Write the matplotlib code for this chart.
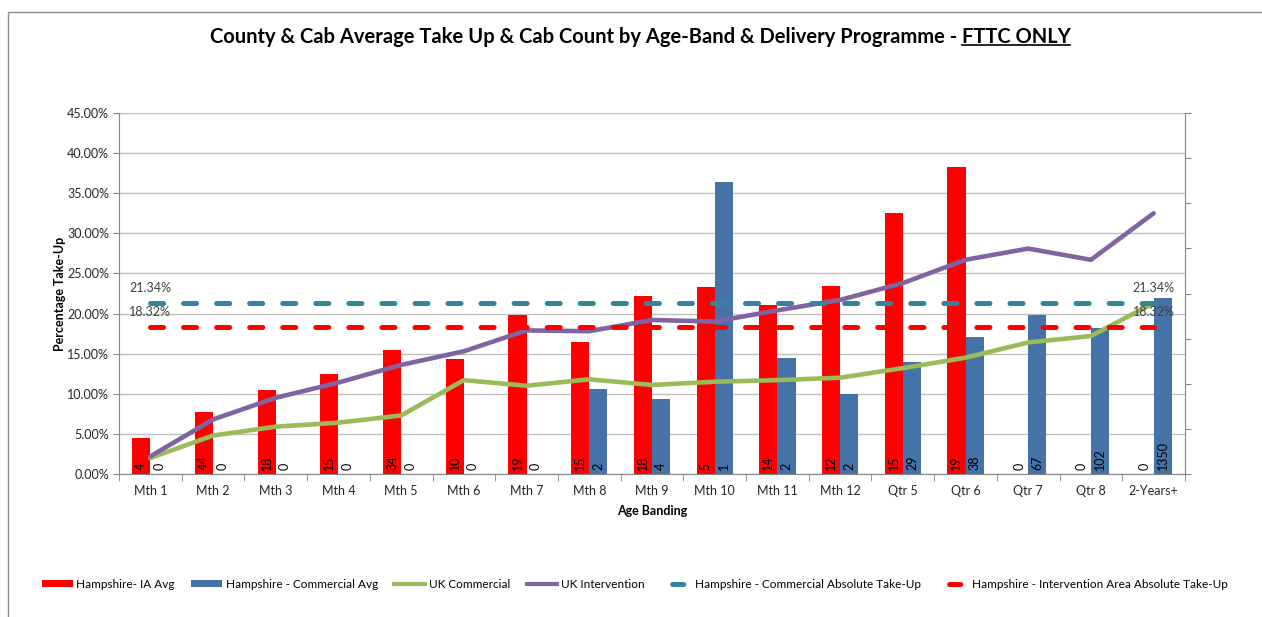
import numpy as np
import matplotlib.pyplot as plt
from matplotlib.lines import Line2D
from matplotlib.patches import Patch, Rectangle
from matplotlib.ticker import FuncFormatter

plt.rcParams['font.family'] = ['Lato', 'DejaVu Sans']
plt.rcParams['lines.scale_dashes'] = False

# 数据
categories = ['Mth 1', 'Mth 2', 'Mth 3', 'Mth 4', 'Mth 5', 'Mth 6', 'Mth 7', 'Mth 8',
              'Mth 9', 'Mth 10', 'Mth 11', 'Mth 12', 'Qtr 5', 'Qtr 6', 'Qtr 7', 'Qtr 8',
              '2-Years+']
ia_avg = [4.5, 7.7, 10.5, 12.5, 15.5, 14.3, 19.8, 16.5, 22.2, 23.3, 21.1, 23.4,
          32.5, 38.3, 0, 0, 0]
comm_avg = [0, 0, 0, 0, 0, 0, 0, 10.6, 9.4, 36.4, 14.4, 10.0, 14.0, 17.1, 19.8,
            18.2, 22.0]
ia_counts = [4, 44, 18, 15, 34, 10, 19, 15, 18, 5, 14, 12, 15, 19, 0, 0, 0]
comm_counts = [0, 0, 0, 0, 0, 0, 0, 2, 4, 1, 2, 2, 29, 38, 67, 102, 1350]
uk_commercial = [2.0, 4.8, 5.9, 6.4, 7.3, 11.7, 11.0, 11.8, 11.1, 11.5, 11.7, 12.0,
                 13.2, 14.5, 16.4, 17.2, 21.3]
uk_intervention = [2.2, 6.8, 9.5, 11.4, 13.6, 15.3, 17.9, 17.8, 19.2, 19.0, 20.4,
                   21.7, 23.8, 26.7, 28.1, 26.7, 32.5]
comm_absolute = 21.34
ia_absolute = 18.32

RED = '#FF0000'
BLUE = '#4572A7'
GREEN = '#9BBB59'
PURPLE = '#8064A2'
TEAL = '#31859C'
GRID = '#BFBFBF'
AXIS = '#868686'
TXT = '#262626'

W, H = 1262, 617
fig = plt.figure(figsize=(W / 100, H / 100), dpi=100)
ax = fig.add_axes([119 / W, 1 - 474 / H, (1185 - 119) / W, (474 - 113) / H])

x = np.arange(len(categories))
bw = 0.29

ax.bar(x - bw / 2, ia_avg, bw, color=RED, zorder=2)
ax.bar(x + bw / 2, comm_avg, bw, color=BLUE, zorder=2)

# 柱内计数标签
for xi, c in zip(x, ia_counts):
    ax.annotate(str(c), (xi - bw / 2, 0), xytext=(0, 3), textcoords='offset points',
                rotation=90, ha='center', va='bottom', fontsize=9, color='black', zorder=5)
for xi, c in zip(x, comm_counts):
    ax.annotate(str(c), (xi + bw / 2, 0), xytext=(0, 3), textcoords='offset points',
                rotation=90, ha='center', va='bottom', fontsize=9, color='black', zorder=5)

ax.plot(x, uk_commercial, color=GREEN, lw=3.3, solid_capstyle='round',
        solid_joinstyle='round', zorder=3)
ax.plot(x, uk_intervention, color=PURPLE, lw=3.3, solid_capstyle='round',
        solid_joinstyle='round', zorder=3)

dash = (0, (9.4, 14.4))
ax.plot(x, [comm_absolute] * len(x), color=TEAL, lw=3.6, linestyle=dash,
        dash_capstyle='round', zorder=4)
ax.plot(x, [ia_absolute] * len(x), color=RED, lw=3.6, linestyle=dash,
        dash_capstyle='round', zorder=4)

for xi in (x[0], x[-1]):
    ax.annotate(f'{comm_absolute:.2f}%', (xi, comm_absolute), xytext=(0, 11),
                textcoords='offset points', ha='center', va='center', fontsize=9,
                color='#404040', zorder=6)
    ax.annotate(f'{ia_absolute:.2f}%', (xi, ia_absolute), xytext=(0, 11),
                textcoords='offset points', ha='center', va='center', fontsize=9,
                color='#404040', zorder=6)

ax.set_xlim(-0.5, len(categories) - 0.5)
ax.set_ylim(0, 45)
ax.set_yticks(np.arange(0, 46, 5))
ax.yaxis.set_major_formatter(FuncFormatter(lambda v, p: f'{v:.2f}%'))
ax.set_xticks(x)
ax.set_xticklabels(categories)
ax.set_xticks(np.arange(-0.5, len(categories), 1), minor=True)
ax.tick_params(axis='x', which='major', length=0, pad=8, labelsize=9, labelcolor=TXT)
ax.tick_params(axis='x', which='minor', length=5, color=AXIS, direction='out')
ax.tick_params(axis='y', length=4, color=AXIS, labelsize=9, labelcolor=TXT, pad=3)
ax.grid(axis='y', color=GRID, lw=1, zorder=0)
ax.set_axisbelow(True)
for s in ('top', 'right'):
    ax.spines[s].set_visible(False)
for s in ('left', 'bottom'):
    ax.spines[s].set_color(AXIS)

ax.set_ylabel('Percentage Take-Up', fontsize=9, fontweight='bold', color='black', labelpad=1)
ax.set_xlabel('Age Banding', fontsize=9, fontweight='bold', color='black', labelpad=6)

# 次坐标轴（无标签）
ax2 = ax.twinx()
ax2.set_ylim(0, 8)
ax2.set_yticks(np.arange(0, 9, 1))
ax2.set_yticklabels([])
ax2.tick_params(axis='y', length=4, color=AXIS, direction='out')
for s in ('top', 'left', 'bottom'):
    ax2.spines[s].set_visible(False)
ax2.spines['right'].set_color(AXIS)

# 标题（FTTC ONLY 带下划线）
title_main = 'County & Cab Average Take Up & Cab Count by Age-Band & Delivery Programme - '
title_tail = 'FTTC ONLY'
ty = 1 - 37 / H
t1 = fig.text(0, ty, title_main, ha='left', va='center', fontsize=14.5, fontweight='bold')
t2 = fig.text(0, ty, title_tail, ha='left', va='center', fontsize=14.5, fontweight='bold')
r = fig.canvas.get_renderer()
w1 = t1.get_window_extent(r).width
w2 = t2.get_window_extent(r).width
x0 = 640 - (w1 + w2) / 2
t1.set_x(x0 / W)
t2.set_x((x0 + w1) / W)
bb = t2.get_window_extent(r)
uy = bb.y0 + 2
fig.add_artist(Line2D([bb.x0 / W, bb.x1 / W], [uy / H, uy / H], color='black', lw=1.2,
                      transform=fig.transFigure))

# 外框
fig.add_artist(Rectangle((8 / W, -0.1), 1.2, 1 - 12 / H + 0.1, transform=fig.transFigure,
                         fill=False, edgecolor='#8C8C8C', lw=1))

handles = [
    Patch(facecolor=RED),
    Patch(facecolor=BLUE),
    Line2D([], [], color=GREEN, lw=3),
    Line2D([], [], color=PURPLE, lw=3),
    Line2D([], [], color=TEAL, lw=3.6, linestyle=(50, (8, 50)), dash_capstyle='round'),
    Line2D([], [], color=RED, lw=3.6, linestyle=(50, (8, 50)), dash_capstyle='round'),
]
labels = ['Hampshire- IA Avg', 'Hampshire - Commercial Avg', 'UK Commercial',
          'UK Intervention', 'Hampshire - Commercial Absolute Take-Up',
          'Hampshire - Intervention Area Absolute Take-Up']
fig.legend(handles, labels, loc='center', bbox_to_anchor=(635 / W, 1 - 584 / H), ncol=6,
           frameon=False, fontsize=8.5, handlelength=2.6, handleheight=0.6,
           handletextpad=0.3, columnspacing=1.4)

fig.savefig('out.png', dpi=100)
